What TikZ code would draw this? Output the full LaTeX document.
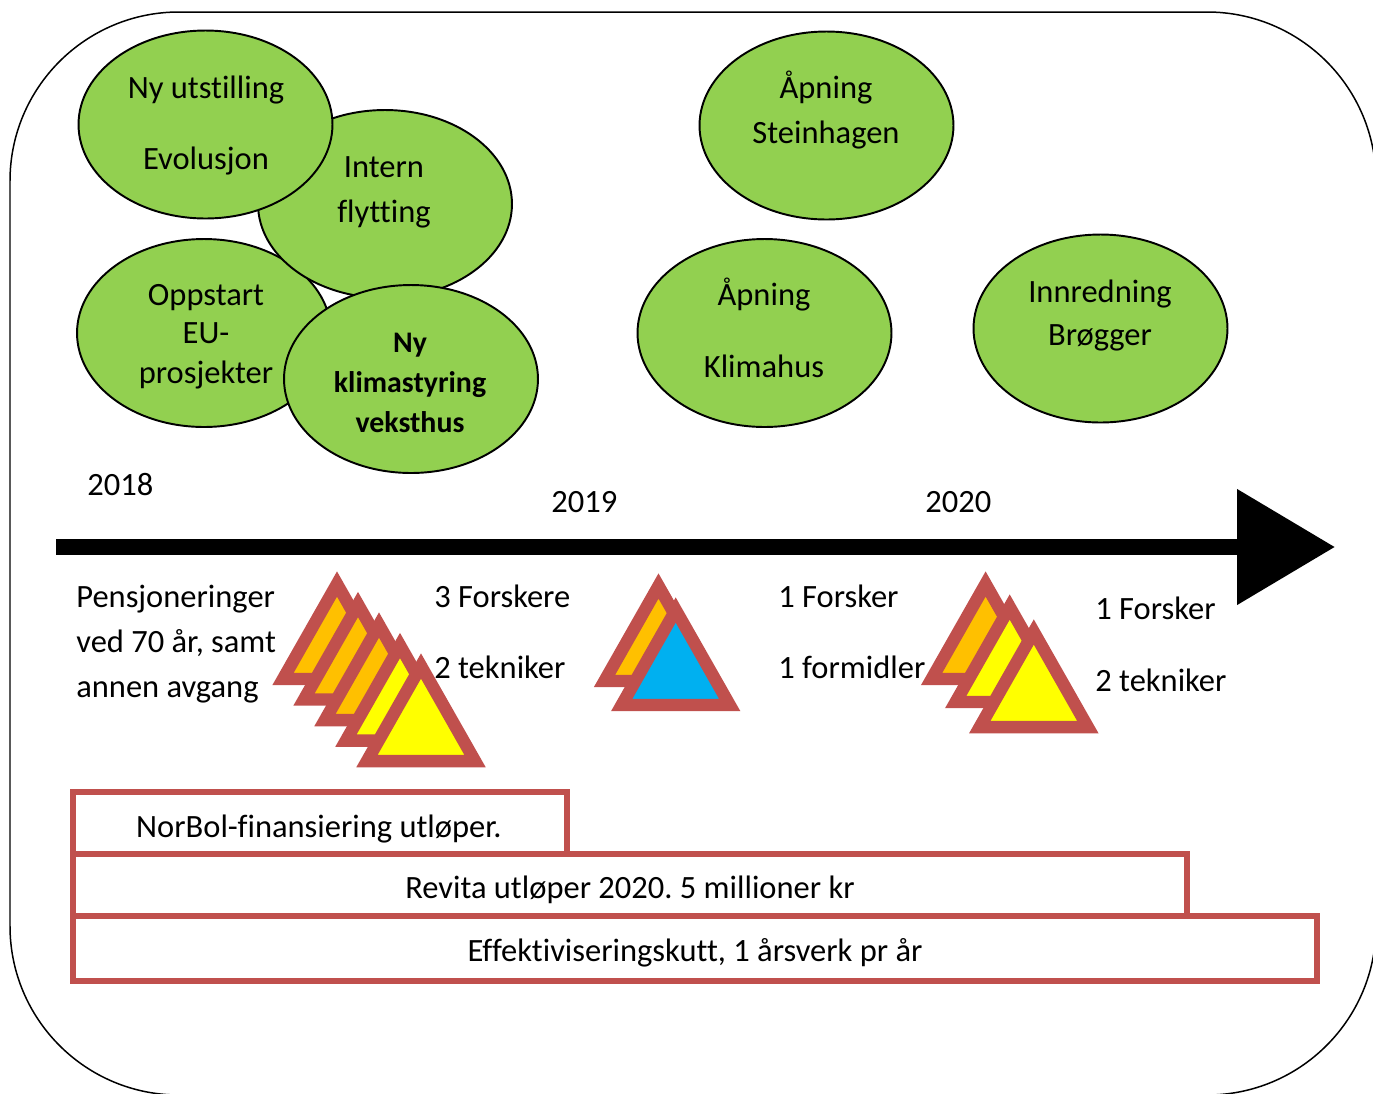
\documentclass[tikz,border=0pt]{standalone}
\usepackage{fontspec}
\setmainfont{Carlito}[Ligatures=NoCommon]
\usepackage{tikz}
\usetikzlibrary{shapes.geometric,arrows.meta}
\frenchspacing
\definecolor{leaf}{HTML}{92D050}
\definecolor{brick}{HTML}{C0504D}
\definecolor{amber}{HTML}{FFC000}
\definecolor{lemon}{HTML}{FFFF00}
\definecolor{sky}{HTML}{00B0F0}
\tikzset{
bubble/.style={ellipse,draw,line width=1.1pt,fill=leaf,minimum width=5.08cm,minimum height=3.76cm,inner sep=0pt},
txt/.style={anchor=base,inner sep=0pt,font=\fontsize{18.5}{22}\selectfont},
btxt/.style={txt,font=\fontsize{17}{21}\selectfont\bfseries},
ltxt/.style={txt,anchor=base west},
tri/.style={draw=brick,line width=7.1pt},
bar/.style={draw=brick,line width=3.7pt,fill=white}
}

\begin{document}
\begin{tikzpicture}[x=0.02cm,y=-0.02cm]
\useasboundingbox (0,0) rectangle (1373,1093);
\clip (0,0) rectangle (1373,1093);
\draw[line width=0.85pt,rounded corners=3.38cm] (10,12) rectangle (1376,1095);

\node[bubble] (oppstart) at (204,333) {};
\node[bubble] (intern) at (385,204) {};
\node[bubble] (evo) at (205.5,124.5) {};
\node[bubble] (klima) at (411,379) {};
\node[bubble] (stein) at (826.5,125.5) {};
\node[bubble] (khus) at (764.5,333) {};
\node[bubble] (brog) at (1100.5,328.5) {};

\node[txt] (evo1) at (206,98) {Ny utstilling};
\node[txt] (evo2) at (206,169) {Evolusjon};
\node[txt] (intern1) at (384,177) {Intern};
\node[txt] (intern2) at (384,222) {flytting};
\node[txt] (opp1) at (206,305) {Oppstart};
\node[txt] (opp2) at (206,343) {EU-};
\node[txt] (opp3) at (206,383) {prosjekter};
\node[btxt] (klima1) at (410,352) {Ny};
\node[btxt] (klima2) at (410,392) {klimastyring};
\node[btxt] (klima3) at (410,432) {veksthus};
\node[txt] (stein1) at (826,98) {Åpning};
\node[txt] (stein2) at (826,143) {Steinhagen};
\node[txt] (khus1) at (764,305) {Åpning};
\node[txt] (khus2) at (764,377) {Klimahus};
\node[txt] (brog1) at (1100,302) {Innredning};
\node[txt] (brog2) at (1100,345) {Brøgger};

\node[ltxt] (y2018) at (87,495) {2018};
\node[ltxt] (y2019) at (551,512) {2019};
\node[ltxt] (y2020) at (925,512) {2020};
\coordinate (tl0) at (56,547);
\coordinate (tl1) at (1335,547);
\draw[line width=8.8pt,-{Triangle[length=1.96cm,width=2.24cm]}] (tl0) -- (tl1);

\node[ltxt] (pens1) at (76,607) {Pensjoneringer};
\node[ltxt] (pens2) at (76,652) {ved 70 år, samt};
\node[ltxt] (pens3) at (76,697) {annen avgang};
\node[ltxt] (g1a) at (434,607) {3 Forskere};
\node[ltxt] (g1b) at (434,678) {2 tekniker};
\node[ltxt] (g2a) at (778,607) {1 Forsker};
\node[ltxt] (g2b) at (778,678) {1 formidler};
\node[ltxt] (g3a) at (1095,619) {1 Forsker};
\node[ltxt] (g3b) at (1095,691) {2 tekniker};

\foreach \i/\c in {0/amber,1/amber,2/amber,3/lemon,4/lemon}
\draw[tri,fill=\c] (337+21*\i,584+20.5*\i) -- ++(54,95) -- ++(-108,0) -- cycle;
\foreach \x/\y/\c in {658.5/586/amber,675.7/610/sky}
\draw[tri,fill=\c] (\x,\y) -- ++(54,95) -- ++(-108,0) -- cycle;
\foreach \x/\y/\c in {985.6/584/amber,1009.7/607/lemon,1033.8/632/lemon}
\draw[tri,fill=\c] (\x,\y) -- ++(54,95) -- ++(-108,0) -- cycle;

\draw[bar] (73,792) rectangle (567,854);
\draw[bar] (73,854) rectangle (1187,916);
\draw[bar] (73,916) rectangle (1317,981);
\node[txt] (norbol) at (319,837) {NorBol-finansiering utløper.};
\node[txt] (revita) at (630,898) {Revita utløper 2020. 5 millioner kr};
\node[txt] (effekt) at (695,961) {Effektiviseringskutt, 1 årsverk pr år};
\end{tikzpicture}
\end{document}
